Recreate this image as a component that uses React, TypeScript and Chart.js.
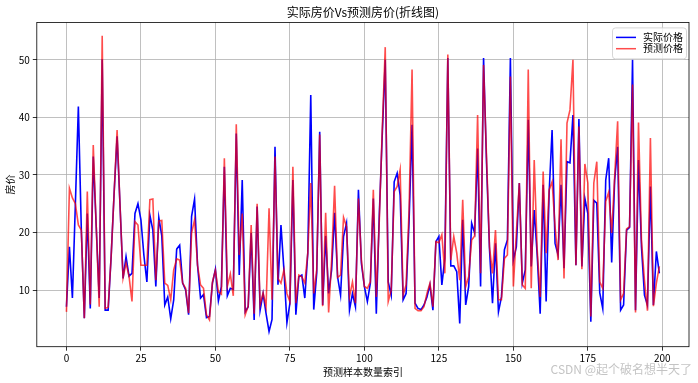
import React, { useEffect, useRef } from "react";
import { Chart, registerables } from "chart.js";

Chart.register(...registerables);

const chartTitle = "实际房价Vs预测房价(折线图)";
const xAxisLabel = "预测样本数量索引";
const yAxisLabel = "房价";
const seriesNames = ["实际价格", "预测价格"];
const watermark = "CSDN @起个破名想半天了";

const xTicks = [0, 25, 50, 75, 100, 125, 150, 175, 200];
const yTicks = [10, 20, 30, 40, 50];

const actualPrices = [
  7.1, 17.5, 8.6, 25, 41.9, 20.4, 5.1, 23.3, 6.8, 33.2,
  21, 8.6, 50.1, 6.5, 6.5, 15.8, 26.8, 36.7, 24.5, 12.0,
  15.8, 12.4, 12.9, 23.3, 25.0, 22.2, 16, 11.4, 23, 20.4,
  10.6, 22.6, 19.4, 7.4, 8.8, 5.0, 8.3, 17.1, 17.8, 11.2,
  10.0, 5.7, 22.8, 25.8, 14.3, 8.6, 9.2, 5.2, 5.4, 11.2,
  13.6, 8.1, 10.6, 31.4, 9.0, 10.3, 10.1, 37.2, 12.6, 29.1,
  6.2, 7.1, 19.9, 4.8, 24.5, 6.5, 9.4, 5.9, 2.8, 4.9,
  34.9, 10.9, 21.3, 13.5, 4.3, 7.7, 29.1, 5.7, 12.3, 12.6,
  8.6, 16.4, 43.9, 6.6, 12.9, 37.5, 7.4, 19.4, 9.4, 13.5,
  23.4, 12.3, 9.1, 19.3, 21.6, 6.5, 9.4, 7.1, 27.4, 14.6,
  10.6, 8.0, 11.2, 25.9, 5.9, 23, 37, 50.0, 11.4, 9.1,
  28.8, 30.3, 26.5, 8.3, 9.4, 22, 38.7, 7.7, 6.8, 6.6,
  7.4, 8.8, 10.9, 6.5, 18.4, 19.3, 10.9, 15.5, 50.3, 14.2,
  14.2, 13.2, 4.2, 22.2, 7.4, 10.6, 21.6, 19.9, 34.6, 10.6,
  50.3, 32, 17.0, 7.7, 18.1, 6.2, 8.8, 17.0, 18.7, 50.3,
  15.2, 17.5, 28.6, 11.2, 13.5, 39.6, 14.1, 23.9, 16.1, 5.9,
  28.3, 8.0, 26.8, 37.8, 18.1, 16.1, 28.3, 13.8, 32.3, 32.1,
  40.4, 14.3, 39.7, 14.1, 25.9, 23.3, 4.5, 25.6, 25.1, 9.5,
  6.8, 29.1, 32.9, 14.8, 29.1, 34.9, 6.5, 7.4, 20.4, 20.9,
  50.0, 6.5, 32.6, 17.5, 9.1, 7.4, 28.0, 7.4, 16.7, 12.9,
];

const predictedPrices = [
  6.2, 27.7, 26, 25, 21.3, 20.4, 5.1, 27.1, 7.5, 35.2,
  21, 7.1, 54.2, 6.8, 7, 15.8, 26.8, 37.8, 24.5, 12.1,
  14.7, 12.4, 8.0, 21.9, 21.3, 14.3, 14.3, 14.3, 25.7, 25.8,
  11.7, 22.0, 22.1, 11.2, 10.8, 8.3, 13.5, 15.4, 15.2, 11.2,
  10.3, 6.0, 19.9, 22.2, 14.3, 10.9, 10.3, 5.7, 4.8, 11.4,
  13.4, 9.7, 9.3, 32.9, 10.6, 12.8, 9.0, 38.8, 16.1, 23.3,
  5.7, 7.2, 21.3, 5.9, 25.0, 7.4, 9.5, 7.1, 24.2, 8.3,
  33.2, 12.0, 11.2, 13.5, 9.4, 8.0, 31.4, 7.7, 12.6, 12.3,
  11.2, 16.4, 28.6, 9.4, 13.5, 37.0, 7.2, 23.4, 6.1, 15.2,
  28.1, 12.2, 12.6, 22.6, 21.0, 8.8, 11.4, 7.7, 25.9, 15.2,
  10.6, 10.3, 11.4, 27.4, 8.8, 22, 38, 52.2, 8.0, 10.0,
  27.1, 28.0, 30.9, 9.1, 10.9, 24, 48.3, 6.8, 6.4, 6.4,
  7.1, 9.4, 11.2, 7.1, 18.4, 18.2, 19.6, 12.9, 50.9, 15.2,
  19.3, 16.4, 11.7, 25.7, 10.6, 12.3, 18.7, 19.4, 40.4, 12.9,
  49.1, 33, 17.5, 12.9, 20.4, 8.3, 8.3, 15.5, 16.1, 47.1,
  10.6, 19.9, 28.6, 10.9, 10.3, 48.3, 10.3, 32.6, 17.0, 8.8,
  30.6, 16.4, 27.4, 28.8, 21.0, 15.2, 36.2, 12.0, 39.0, 41.3,
  50.0, 14.3, 38.4, 13.6, 31.9, 28.6, 5.4, 28.6, 32.3, 11.4,
  10.3, 25.4, 27, 19.9, 29.7, 39.3, 8.3, 9.4, 20.6, 21.0,
  45.7, 6.1, 39.1, 18.7, 11.7, 6.4, 36.4, 7.2, 11.2, 14.1,
];

const FONT = '"Noto Sans CJK SC", "Noto Sans", sans-serif';
const BLUE = "#0000ff";
const RED = "rgba(255,0,0,0.7)";

export default function App() {
  const ref = useRef<HTMLCanvasElement | null>(null);

  useEffect(() => {
    document.body.style.margin = "0";
    const canvas = ref.current;
    if (!canvas) return;

    const toPoints = (arr: number[]) => arr.map((y, i) => ({ x: i, y }));

    const decorPlugin = {
      id: "decor",
      afterDraw(chart: any) {
        const c = chart.ctx as CanvasRenderingContext2D;
        const a = chart.chartArea;
        c.save();
        // frame
        c.strokeStyle = "#000";
        c.lineWidth = 0.8;
        c.strokeRect(a.left, a.top, a.right - a.left, a.bottom - a.top);

        // legend box
        const w = 74;
        const h = 31;
        const x = a.right - 3 - w;
        const y = a.top + 5;
        c.beginPath();
        (c as any).roundRect(x + 0.5, y + 0.5, w, h, 3);
        c.fillStyle = "rgba(255,255,255,0.8)";
        c.fill();
        c.strokeStyle = "#d6d6d6";
        c.lineWidth = 1;
        c.stroke();
        const colors = [BLUE, RED];
        c.font = `10px ${FONT}`;
        c.textBaseline = "middle";
        c.textAlign = "left";
        seriesNames.forEach((name, k) => {
          const ly = y + 10 + k * 11.3;
          c.strokeStyle = colors[k];
          c.lineWidth = 1.5;
          c.beginPath();
          c.moveTo(x + 4, ly);
          c.lineTo(x + 24, ly);
          c.stroke();
          c.fillStyle = "#000";
          c.fillText(name, x + 31, ly);
        });

        // watermark
        c.font = `12px ${FONT}`;
        c.fillStyle = "#c4c4c4";
        c.textAlign = "right";
        c.textBaseline = "middle";
        c.fillText(watermark, 692, 369);
        c.restore();
      },
    };

    const chart = new Chart(canvas, {
      type: "line",
      data: {
        datasets: [
          {
            label: seriesNames[0],
            data: toPoints(actualPrices),
            borderColor: BLUE,
            borderWidth: 1.6,
            pointRadius: 0,
            tension: 0,
            fill: false,
            order: 2,
          },
          {
            label: seriesNames[1],
            data: toPoints(predictedPrices),
            borderColor: RED,
            borderWidth: 1.6,
            pointRadius: 0,
            tension: 0,
            fill: false,
            order: 1,
          },
        ],
      },
      plugins: [decorPlugin],
      options: {
        animation: false,
        responsive: false,
        devicePixelRatio: 1,
        layout: { padding: { left: 0, right: 9, top: 0, bottom: 0 } },
        plugins: {
          legend: { display: false },
          tooltip: { enabled: false },
          title: {
            display: true,
            text: chartTitle,
            fullSize: false,
            color: "#000",
            font: { family: FONT, size: 12, weight: "normal" },
            padding: { top: 5, bottom: 3 },
          },
        },
        scales: {
          x: {
            type: "linear",
            min: -9.95,
            max: 208.95,
            afterFit: (s: any) => {
              s.height = 36.3;
            },
            afterBuildTicks: (s: any) => {
              s.ticks = xTicks.map((v) => ({ value: v }));
            },
            ticks: {
              color: "#000",
              font: { family: FONT, size: 10 },
              padding: 2,
              maxRotation: 0,
              autoSkip: false,
            },
            grid: {
              color: "#b0b0b0",
              lineWidth: 0.8,
              drawTicks: true,
              tickLength: 4,
              tickColor: "#000",
              tickWidth: 0.8,
            },
            border: { display: false },
            title: {
              display: true,
              text: xAxisLabel,
              color: "#000",
              font: { family: FONT, size: 10 },
              padding: { top: 0, bottom: 5 },
            },
          },
          y: {
            type: "linear",
            min: 0.15,
            max: 56.5,
            afterFit: (s: any) => {
              s.width = 36.8;
            },
            afterBuildTicks: (s: any) => {
              s.ticks = yTicks.map((v) => ({ value: v }));
            },
            ticks: {
              color: "#000",
              font: { family: FONT, size: 10 },
              padding: 3,
              autoSkip: false,
            },
            grid: {
              color: "#b0b0b0",
              lineWidth: 0.8,
              drawTicks: true,
              tickLength: 4,
              tickColor: "#000",
              tickWidth: 0.8,
            },
            border: { display: false },
            title: {
              display: true,
              text: yAxisLabel,
              color: "#000",
              font: { family: FONT, size: 10 },
              padding: { top: 4, bottom: 0 },
            },
          },
        },
      },
    } as any);

    return () => chart.destroy();
  }, []);

  return (
    <div style={{ width: 698, height: 383, position: "relative" }}>
      <canvas ref={ref} width={698} height={383} style={{ width: 698, height: 383, display: "block" }} />
    </div>
  );
}
